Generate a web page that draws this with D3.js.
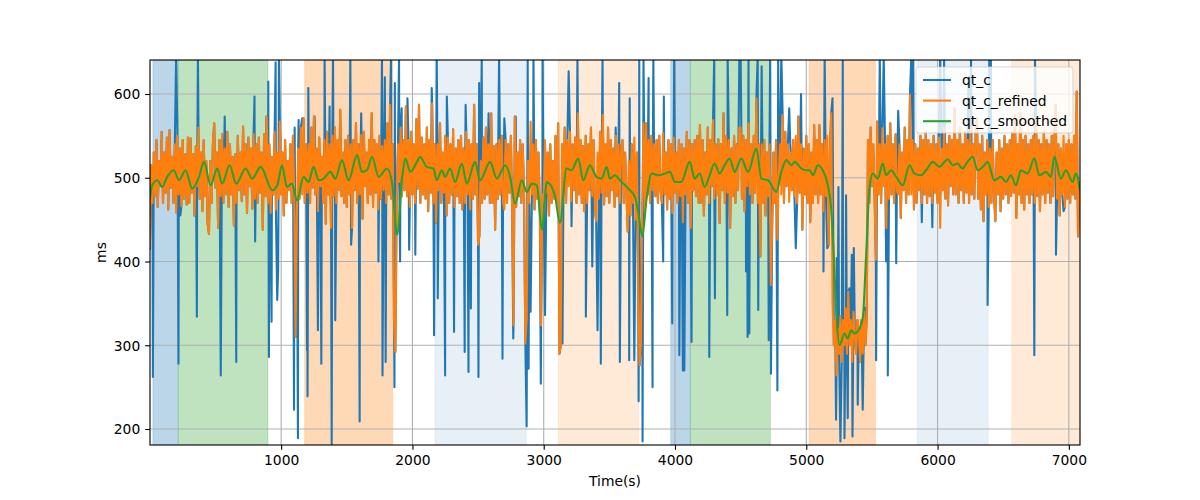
<!DOCTYPE html>
<html><head><meta charset="utf-8">
<script src="https://cdn.jsdelivr.net/npm/d3@7"></script>
<style>body{margin:0;background:#fff} svg{display:block} text{font-family:"DejaVu Sans",sans-serif}</style>
</head><body><svg id="c" width="1200" height="500"></svg>
<script>
// ---------------- data ----------------
const seriesNames = ["qt_c", "qt_c_refined", "qt_c_smoothed"];
const refinedStep = 10; // seconds between refined samples, starting at t=0
const refinedValues = [
415,515,470,530,478,545,465,520,490,555,470,530,482,548,462,557,488,525,470,540,458,550,480,535,466,545,475,528,468,548,
470,547,482,528,455,538,490,560,475,530,460,545,478,520,445,433,520,470,540,565,488,530,440,545,478,552,470,535,480,555,
465,540,480,525,443,528,470,550,485,530,472,561,480,540,458,548,490,535,463,552,475,540,470,548,482,530,438,552,478,573,
470,540,458,525,480,555,462,530,475,567,480,530,455,545,470,520,485,540,470,550,478,310,460,535,475,560,480,571,470,540,
482,540,470,560,488,573,480,535,460,548,490,525,470,545,445,555,480,540,440,550,478,560,470,545,485,581,478,530,470,545,
465,550,480,540,440,545,485,565,470,540,480,551,451,555,490,530,470,545,480,577,465,545,482,540,462,550,475,538,485,545,
470,565,480,587,475,540,330,292,470,540,495,560,478,545,485,585,478,545,465,555,480,540,470,570,487,587,470,548,480,540,
475,560,460,545,482,589,470,540,446,540,485,565,470,530,482,550,455,548,470,540,480,558,465,535,478,545,470,550,462,535,
470,555,480,545,462,540,475,587,480,540,420,430,520,470,548,475,560,480,540,470,577,470,538,438,540,475,545,480,550,470,
462,545,470,540,482,550,455,324,573,465,530,478,545,470,540,480,302,330,520,470,567,480,540,462,545,475,530,470,324,480,
470,545,482,530,455,540,470,520,475,550,470,565,290,300,540,480,560,470,545,490,555,472,540,485,548,470,577,480,545,470,
538,460,550,470,540,485,560,478,545,462,448,530,475,555,482,575,468,540,478,560,470,545,485,535,465,550,478,540,470,535,
545,470,530,480,436,520,455,540,470,548,450,530,380,276,300,470,565,460,565,480,545,470,550,485,540,478,545,470,550,485,
470,553,480,530,462,545,475,540,458,548,482,530,470,545,478,540,447,535,480,555,470,545,440,540,485,545,478,550,470,563,
470,545,455,530,480,560,470,545,490,569,475,540,480,546,446,540,485,577,470,550,482,545,440,535,478,550,470,540,485,560,
560,475,550,460,545,490,565,480,540,470,550,482,595,470,540,406,540,470,545,455,530,478,540,372,440,530,470,545,426,500,
540,480,575,470,555,490,540,471,530,485,545,478,550,470,573,482,540,438,535,480,550,470,540,447,530,470,563,480,545,470,
563,480,540,460,545,478,550,420,530,577,350,300,330,264,320,290,335,280,330,300,344,290,364,300,330,280,340,310,290,330,
320,280,330,290,340,300,330,545,470,560,490,540,480,402,567,480,540,470,559,490,540,440,550,475,565,480,540,470,552,485,
480,540,452,530,485,560,470,545,480,599,480,545,462,540,470,535,485,550,470,545,480,555,470,545,478,540,470,550,482,540,
470,548,440,535,485,560,475,540,467,550,490,545,480,583,480,545,470,560,485,540,470,555,482,545,470,560,480,540,475,555,
571,475,540,462,550,448,530,480,545,465,535,470,545,480,448,530,480,545,460,535,475,550,480,540,470,545,478,555,482,575,
452,540,480,577,470,545,462,550,480,540,470,545,480,550,470,571,478,545,460,540,480,555,470,545,482,540,470,550,478,545,
587,475,540,455,535,480,550,465,540,475,545,470,540,480,550,475,603,430,490
];
// raw qt_c outliers (removed in the refined series)
const spikeTimes = [
23,200,218,232,358,366,540,570,658,797,802,888,902,907,927,958,970,977,983,992,
1098,1103,1128,1133,1160,1197,1201,1207,1255,1280,1306,1331,1369,1385,1395,1412,1527,1533,1598,1610,1741,1768,1772,1790,1796,1837,1863,1866,1898,1906,1918,1962,1975,2022,
2147,2165,2185,2193,2249,2262,2317,2398,2405,2427,2445,2503,2508,2528,2580,2660,2686,2700,2768,2787,2860,2870,2878,2885,2900,2922,2978,2991,3010,
3143,3190,3212,3257,3321,3370,3410,3435,3448,3548,3575,3580,3651,3655,3690,3723,3728,3753,3760,3799,3829,3835,3910,3915,3979,3994,
4033,4060,4071,4126,4261,4299,4304,4398,4401,4490,4500,4541,4553,4560,4566,4630,4634,4660,4714,4725,4731,4780,4786,4810,4870,4920,4960,
5131,5140,5160,5200,5227,5232,5245,5260,5278,5291,5303,5316,5329,5347,5352,5362,5392,5430,5445,
5532,5560,5590,5608,5621,5685,5700,5800,5815,5880,5960,6020,6050,6235,6255,6381,6394,6406,6737,6742,6902,6960
];
const spikeValues = [
262,645,278,455,334,645,264,573,280,597,424,573,615,286,328,638,354,390,645,567,
223,560,189,569,571,294,239,607,573,318,278,645,585,182,645,330,645,420,209,577,400,645,264,620,280,645,250,613,645,400,583,595,414,408,
607,312,645,356,264,597,316,292,587,268,344,262,613,645,577,645,284,571,308,573,303,203,645,272,340,645,254,645,336,
302,627,442,645,334,394,318,278,645,560,613,280,282,595,282,233,645,185,645,619,250,645,400,597,326,645,
288,270,270,304,286,645,356,336,645,645,645,388,310,645,314,645,342,633,306,645,266,246,645,645,583,416,600,
388,645,416,595,211,404,489,185,645,189,479,213,368,408,191,416,229,223,345,
282,645,645,400,264,398,580,645,645,447,441,645,640,620,645,348,645,645,288,645,408,460
];
const smoothTimes = [
0,18,56,94,132,183,221,272,323,374,412,463,513,551,607,658,729,780,844,933,971,
1006,1044,1082,1120,1171,1209,1247,1286,1324,1374,1413,1463,1514,1578,1616,1654,1692,1743,1806,1844,1883,1921,1946,1984,
2035,2058,2109,2160,2185,2223,2249,2287,2325,2376,2414,2477,2515,2592,2643,2706,2744,2782,2833,2871,2909,2947,2986,3024,
3085,3123,3174,3212,3263,3301,3352,3402,3441,3479,3504,3542,3580,3644,3695,3720,3751,3784,3822,3873,3923,3961,4000,
4048,4112,4150,4188,4226,4264,4302,4340,4378,4416,4455,4505,4556,4620,4658,4709,4772,4810,4848,4887,4912,4963,5001,5026,5052,
5087,5126,5164,5189,5209,5227,5253,5291,5316,5342,5367,5405,5430,5456,5481,5507,5545,5583,5608,5646,5685,5735,5786,5824,5875,5913,5964,6015,6053,
6078,6114,6152,6190,6228,6267,6305,6356,6381,6432,6483,6521,6559,6597,6635,6686,6737,6775,6826,6864,6889,6940,6978,7029,7054,7085
];
const smoothValues = [
475,491,497,489,501,509,497,509,487,501,519,491,511,493,515,493,511,499,513,485,491,
515,489,493,473,501,495,513,497,499,507,499,521,497,527,507,509,525,501,511,495,432,499,523,507,
519,525,513,511,497,509,501,511,495,517,493,519,497,519,499,515,501,469,497,483,493,491,438,495,
479,446,511,509,523,497,515,501,499,513,499,503,497,487,477,459,430,475,505,503,505,507,495,
495,519,499,505,489,503,517,505,515,523,507,523,507,535,499,497,483,507,521,515,519,511,509,509,503,
515,509,491,464,408,344,300,314,308,318,314,320,332,408,487,505,499,517,503,509,501,491,515,505,503,509,519,513,519,
522,515,517,511,519,525,509,515,519,497,501,495,503,491,509,505,523,503,507,501,525,499,509,495,505,485
];
const spanStarts = [23, 216, 1179, 2172, 3110, 3967, 4117, 5021, 5845, 6564];
const spanEnds   = [216, 900, 1850, 2867, 3725, 4117, 4727, 5527, 6386, 7085];
const spanKinds  = ["blue","green","orange","lightblue","lightorange","blue","green","orange","lightblue","lightorange"];
const xTicks = [1000, 2000, 3000, 4000, 5000, 6000, 7000];
const yTicks = [200, 300, 400, 500, 600];

// ---------------- build tables ----------------
const refined = refinedValues.map((v, i) => ({t: i * refinedStep, v}));
const rawMap = new Map(refined.map(d => [d.t, d.v]));
spikeTimes.forEach((t, i) => rawMap.set(t, spikeValues[i]));
const raw = Array.from(rawMap, ([t, v]) => ({t, v})).sort((a, b) => a.t - b.t);
const smooth = smoothTimes.map((t, i) => ({t, v: smoothValues[i]}));
const spans = spanStarts.map((s, i) => ({s, e: spanEnds[i], k: spanKinds[i]}));

// ---------------- drawing ----------------
const L = 150, R = 1080, T = 60, B = 445;
const PT = 100 / 72;
const FS = 10 * PT;
const svg = d3.select("#c");
const x = d3.scaleLinear().domain([1, 7085]).range([L, R]);
const y = d3.scaleLinear().domain([180.9, 640.6]).range([B, T]);

svg.append("defs").append("clipPath").attr("id", "clip")
  .append("rect").attr("x", L).attr("y", T).attr("width", R - L).attr("height", B - T);

const spanStyle = {
  blue: ["#1f77b4", 0.3], green: ["#2ca02c", 0.3], orange: ["#ff7f0e", 0.3],
  lightblue: ["#1f77b4", 0.115], lightorange: ["#ff7f0e", 0.16]
};
const plot = svg.append("g").attr("clip-path", "url(#clip)");
plot.selectAll("rect.span").data(spans).join("rect").attr("class", "span")
  .attr("x", d => x(d.s)).attr("width", d => x(d.e) - x(d.s))
  .attr("y", T).attr("height", B - T)
  .attr("fill", d => spanStyle[d.k][0]).attr("fill-opacity", d => spanStyle[d.k][1])
  .attr("stroke", d => spanStyle[d.k][0]).attr("stroke-opacity", d => spanStyle[d.k][1] * 0.6)
  .attr("stroke-width", 1);

// grid
const grid = svg.append("g");
grid.selectAll("line.gx").data(xTicks).join("line")
  .attr("x1", d => x(d)).attr("x2", d => x(d)).attr("y1", T).attr("y2", B)
  .attr("stroke", "#b0b0b0").attr("stroke-width", 0.8 * PT);
grid.selectAll("line.gy").data(yTicks).join("line")
  .attr("y1", d => y(d)).attr("y2", d => y(d)).attr("x1", L).attr("x2", R)
  .attr("stroke", "#b0b0b0").attr("stroke-width", 0.8 * PT);

const colors = ["#1f77b4", "#ff7f0e", "#2ca02c"];
const line = d3.line().x(d => x(d.t)).y(d => y(d.v));
const lineSmooth = d3.line().x(d => x(d.t)).y(d => y(d.v)).curve(d3.curveMonotoneX);
const lines = svg.append("g").attr("clip-path", "url(#clip)");
[raw, refined, smooth].forEach((data, i) => {
  lines.append("path").datum(data)
    .attr("d", i === 2 ? lineSmooth : line)
    .attr("fill", "none").attr("stroke", colors[i])
    .attr("stroke-width", 1.5 * PT).attr("stroke-linejoin", "round").attr("stroke-linecap", "square");
});

// axes
const fmt = d3.format("d");
const gx = svg.append("g").attr("transform", `translate(0,${B})`)
  .call(d3.axisBottom(x).tickValues(xTicks).tickFormat(fmt).tickSize(3.5 * PT).tickSizeOuter(0).tickPadding(3.5 * PT));
const gy = svg.append("g").attr("transform", `translate(${L},0)`)
  .call(d3.axisLeft(y).tickValues(yTicks).tickFormat(fmt).tickSize(3.5 * PT).tickSizeOuter(0).tickPadding(3.5 * PT));
[gx, gy].forEach(g => {
  g.select(".domain").remove();
  g.selectAll("line").attr("stroke", "#000").attr("stroke-width", 0.8 * PT);
  g.selectAll("text").attr("font-size", FS + "px").attr("font-family", "DejaVu Sans").attr("fill", "#000");
});
gy.selectAll("text").attr("dy", "0.35em");

svg.append("rect").attr("x", L).attr("y", T).attr("width", R - L).attr("height", B - T)
  .attr("fill", "none").attr("stroke", "#000").attr("stroke-width", 0.8 * PT);

svg.append("text").attr("x", (L + R) / 2).attr("y", 486).attr("text-anchor", "middle")
  .attr("font-size", FS + "px").text("Time(s)");
svg.append("text").attr("transform", `translate(106,${(T + B) / 2}) rotate(-90)`)
  .attr("text-anchor", "middle").attr("font-size", FS + "px").text("ms");

// legend
const lg = svg.append("g");
lg.append("rect").attr("x", 916).attr("y", 67).attr("width", 157).attr("height", 66)
  .attr("rx", 2.8).attr("fill", "#fff").attr("fill-opacity", 0.8)
  .attr("stroke", "#cccccc").attr("stroke-opacity", 0.8).attr("stroke-width", 1);
seriesNames.forEach((n, i) => {
  const yy = 80 + i * 20.6;
  lg.append("line").attr("x1", 923).attr("x2", 951).attr("y1", yy).attr("y2", yy)
    .attr("stroke", colors[i]).attr("stroke-width", 1.5 * PT);
  lg.append("text").attr("x", 962).attr("y", yy + 5).attr("font-size", FS + "px").text(n);
});
</script></body></html>
